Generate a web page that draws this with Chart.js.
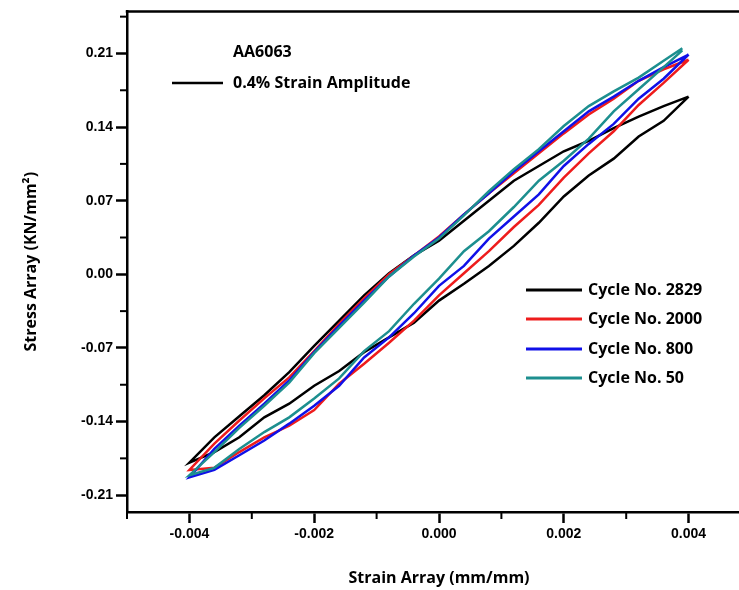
<!DOCTYPE html>
<html><head><meta charset="utf-8">
<script src="https://cdn.jsdelivr.net/npm/chart.js@4.4.0/dist/chart.umd.min.js"></script>
<style>
html,body{margin:0;padding:0;background:#fff;overflow:hidden;width:739px;height:590px;}
#wrap{position:absolute;left:0;top:0;width:760px;height:590px;}
</style></head>
<body>
<div id="wrap"><canvas id="c" width="760" height="590"></canvas></div>
<script>
// ---- data (strain in mm/mm, stress in KN/mm^2) ----
const strain   = [-0.0040,-0.0036,-0.0032,-0.0028,-0.0024,-0.0020,-0.0016,-0.0012,-0.0008,-0.0004,0.0000,0.0004,0.0008,0.0012,0.0016,0.0020,0.0024,0.0028,0.0032,0.0036,0.0040];
const strain50 = [-0.0040,-0.0036,-0.0032,-0.0028,-0.0024,-0.0020,-0.0016,-0.0012,-0.0008,-0.0004,0.0000,0.0004,0.0008,0.0012,0.0016,0.0020,0.0024,0.0028,0.0032,0.0036,0.0039];

const c2829Upper = [-0.179,-0.155,-0.135,-0.115,-0.093,-0.068,-0.044,-0.020,0.001,0.018,0.032,0.051,0.070,0.089,0.103,0.117,0.127,0.139,0.150,0.160,0.169];
const c2829Lower = [-0.179,-0.169,-0.155,-0.136,-0.123,-0.106,-0.092,-0.074,-0.060,-0.046,-0.025,-0.009,0.008,0.027,0.049,0.074,0.094,0.110,0.131,0.146,0.169];
const c2000Upper = [-0.186,-0.161,-0.139,-0.118,-0.098,-0.073,-0.047,-0.023,0.000,0.018,0.036,0.057,0.077,0.096,0.115,0.134,0.152,0.167,0.184,0.195,0.204];
const c2000Lower = [-0.186,-0.184,-0.169,-0.155,-0.144,-0.129,-0.104,-0.085,-0.065,-0.044,-0.020,0.001,0.022,0.045,0.066,0.092,0.115,0.136,0.161,0.182,0.204];
const c800Upper  = [-0.193,-0.166,-0.144,-0.123,-0.101,-0.074,-0.049,-0.025,-0.002,0.018,0.035,0.057,0.077,0.098,0.117,0.136,0.155,0.169,0.184,0.197,0.209];
const c800Lower  = [-0.193,-0.186,-0.172,-0.158,-0.142,-0.125,-0.106,-0.079,-0.060,-0.037,-0.011,0.008,0.034,0.055,0.076,0.103,0.124,0.143,0.167,0.186,0.209];
const c50Upper   = [-0.191,-0.169,-0.146,-0.125,-0.103,-0.075,-0.051,-0.027,-0.002,0.017,0.034,0.056,0.079,0.100,0.119,0.141,0.160,0.174,0.187,0.203,0.215];
const c50Lower   = [-0.191,-0.184,-0.166,-0.150,-0.136,-0.118,-0.099,-0.073,-0.054,-0.028,-0.004,0.022,0.041,0.064,0.089,0.108,0.129,0.155,0.176,0.197,0.213];

const seriesLabels = ['Cycle No. 2829','Cycle No. 2000','Cycle No. 800','Cycle No. 50'];
const xMajorTicks = [-0.004,-0.002,0.000,0.002,0.004];
const xMinorTicks = [-0.005,-0.003,-0.001,0.001,0.003,0.005];
const yMajorTicks = [-0.21,-0.14,-0.07,0.00,0.07,0.14,0.21];
const yMinorTicks = [-0.175,-0.105,-0.035,0.035,0.105,0.175,0.245];
const noteTitle = 'AA6063';
const noteLine = '0.4% Strain Amplitude';

// ---- build closed loops: upper branch (right->left), then lower branch (left->right)
function loop(xs, up, lo){
  const pts = [];
  for (let i = xs.length-1; i >= 0; i--) pts.push({x: xs[i], y: up[i]});
  for (let i = 1; i < xs.length; i++) pts.push({x: xs[i], y: lo[i]});
  return pts;
}
const colors = ['#000000','#ee1c1c','#1010e8','#1d8f8f'];
const loops = [
  loop(strain, c2829Upper, c2829Lower),
  loop(strain, c2000Upper, c2000Lower),
  loop(strain, c800Upper, c800Lower),
  loop(strain50, c50Upper, c50Lower)
];

const tickFont = {family:"'Liberation Sans', Arial, sans-serif", size:14, weight:'bold'};
const titleFont = {family:"'Open Sans', sans-serif", size:16, weight:'bold'};
const labelFont = "bold 16px 'Open Sans', sans-serif";

const overlay = {
  id:'overlay',
  afterDraw(chart){
    const ctx = chart.ctx, ca = chart.chartArea;
    const xs = chart.scales.x, ys = chart.scales.y;
    ctx.save();
    ctx.strokeStyle = '#000'; ctx.lineWidth = 2.5;
    ctx.beginPath(); ctx.moveTo(ca.left-1.25, ca.top); ctx.lineTo(ca.right, ca.top); ctx.stroke();
    ctx.beginPath(); ctx.moveTo(ca.right, ca.top); ctx.lineTo(ca.right, ca.bottom); ctx.stroke();
    ctx.lineWidth = 2;
    xMinorTicks.forEach(v=>{ const p = xs.getPixelForValue(v);
      ctx.beginPath(); ctx.moveTo(p, ca.bottom); ctx.lineTo(p, ca.bottom+7); ctx.stroke(); });
    yMinorTicks.forEach(v=>{ const p = ys.getPixelForValue(v);
      ctx.beginPath(); ctx.moveTo(ca.left, p); ctx.lineTo(ca.left-7, p); ctx.stroke(); });
    ctx.fillStyle = '#000';
    ctx.font = labelFont;
    ctx.textBaseline = 'middle'; ctx.textAlign = 'left';
    ctx.fillText(noteTitle, 233, 52);
    ctx.fillText(noteLine, 233, 83);
    ctx.lineWidth = 2.5;
    ctx.beginPath(); ctx.moveTo(172, 83); ctx.lineTo(223, 83); ctx.stroke();
    const ys0 = [290, 319, 349, 378];
    chart.data.datasets.forEach((d,i)=>{
      ctx.strokeStyle = d.borderColor; ctx.lineWidth = 3;
      ctx.beginPath(); ctx.moveTo(526, ys0[i]); ctx.lineTo(582, ys0[i]); ctx.stroke();
      ctx.fillStyle = '#000';
      ctx.fillText(d.label, 588, ys0[i]);
    });
    ctx.restore();
  }
};

new Chart(document.getElementById('c'), {
  type:'scatter',
  data:{ datasets: loops.map((pts,i)=>({
    label: seriesLabels[i], data: pts, showLine:true, borderColor: colors[i],
    backgroundColor: colors[i], borderWidth: 2.5, pointRadius: 0, tension: 0, fill:false,
    order: 3-i
  }))},
  options:{
    responsive:false, animation:false,
    layout:{padding:{top:10, right:9, left:0, bottom:0}},
    plugins:{legend:{display:false}, tooltip:{enabled:false}},
    scales:{
      x:{ type:'linear', min:-0.005, max:0.005,
        afterBuildTicks(s){ s.ticks = xMajorTicks.map(v=>({value:v})); },
        afterFit(s){ s.height = 78; },
        ticks:{ color:'#000', font:tickFont, padding:3, maxRotation:0, autoSkip:false,
          callback:(v)=> (Math.abs(v)<1e-12?0:v).toFixed(3) },
        grid:{ drawOnChartArea:false, drawTicks:true, tickLength:11, tickWidth:2.5, tickColor:'#000' },
        border:{ display:true, color:'#000', width:2.5 },
        title:{ display:true, text:'Strain Array (mm/mm)', color:'#000', font:titleFont, padding:{top:14,bottom:2} }
      },
      y:{ type:'linear', min:-0.226, max:0.25,
        afterBuildTicks(s){ s.ticks = yMajorTicks.map(v=>({value:v})); },
        afterFit(s){ s.width = 127; },
        ticks:{ color:'#000', font:tickFont, padding:3, autoSkip:false,
          callback:(v)=> (Math.abs(v)<1e-12?0:v).toFixed(2) },
        grid:{ drawOnChartArea:false, drawTicks:true, tickLength:11, tickWidth:2.5, tickColor:'#000' },
        border:{ display:true, color:'#000', width:2.5 },
        title:{ display:true, text:'Stress Array (KN/mm²)', color:'#000', font:titleFont, padding:{top:22,bottom:0} }
      }
    }
  },
  plugins:[overlay]
});
</script>
</body></html>
